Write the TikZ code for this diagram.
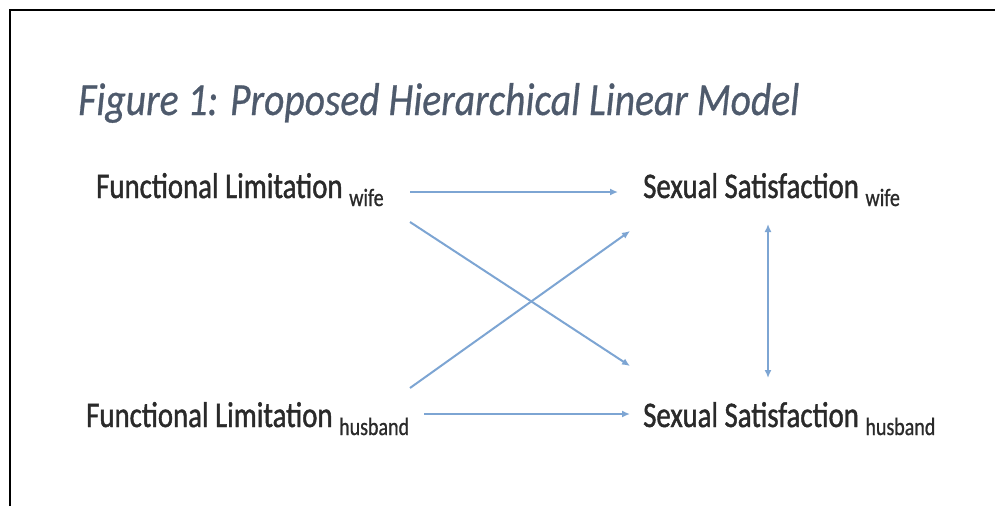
\documentclass[tikz,border=0pt]{standalone}
\usepackage{fontspec}
\usetikzlibrary{arrows.meta}
\newfontfamily\cf[FakeStretch=0.8,FakeBold=1.2]{Carlito}
\newfontfamily\cfs[FakeStretch=0.8,FakeBold=0.8]{Carlito}
\newfontfamily\cfi[FakeStretch=0.86,FakeBold=0.6]{Carlito Italic}
\newcommand{\sbx}[1]{{\cfs\fontsize{25}{27}\selectfont\raisebox{-8pt}{#1}}}
\definecolor{arrowblue}{HTML}{7DA5D3}
\definecolor{titlegray}{HTML}{4E5A6C}
\definecolor{labelgray}{HTML}{2A2A2A}
\begin{document}
\begin{tikzpicture}[x=1pt,y=-1pt,
  lbl/.style={anchor=base west,inner sep=0pt,text=labelgray,font=\cf\fontsize{36}{40}\selectfont},
  arr/.style={draw=arrowblue,line width=2pt,-{Latex[length=8pt,width=7pt]}},
  darr/.style={draw=arrowblue,line width=2pt,{Latex[length=8pt,width=7pt]}-{Latex[length=8pt,width=7pt]}}]
\useasboundingbox (0,0) rectangle (995,506);
\draw[line width=2pt,black] (10,506) -- (10,10) -- (995,10);
\node[anchor=base west,inner sep=0pt,text=titlegray,font=\cfi\fontsize{46}{50}\selectfont] (title) at (78,115) {Figure 1: Proposed Hierarchical Linear Model};
\node[lbl] (fw) at (96,198) {Functional Limitation \sbx{wife}};
\node[lbl] (fh) at (86,427) {Functional Limitation \sbx{husband}};
\node[lbl] (sw) at (643,198) {Sexual Satisfaction \sbx{wife}};
\node[lbl] (sh) at (643,427) {Sexual Satisfaction \sbx{husband}};
\coordinate (a1) at (410,192);
\coordinate (b1) at (618,192);
\coordinate (a2) at (410,222);
\coordinate (b2) at (630,366);
\coordinate (a3) at (410,388);
\coordinate (b3) at (630,231);
\coordinate (a4) at (424,414);
\coordinate (b4) at (630,414);
\coordinate (v1) at (768,224);
\coordinate (v2) at (768,378);
\draw[arr] (a1) -- (b1);
\draw[arr] (a2) -- (b2);
\draw[arr] (a3) -- (b3);
\draw[arr] (a4) -- (b4);
\draw[darr] (v1) -- (v2);
\end{tikzpicture}
\end{document}
